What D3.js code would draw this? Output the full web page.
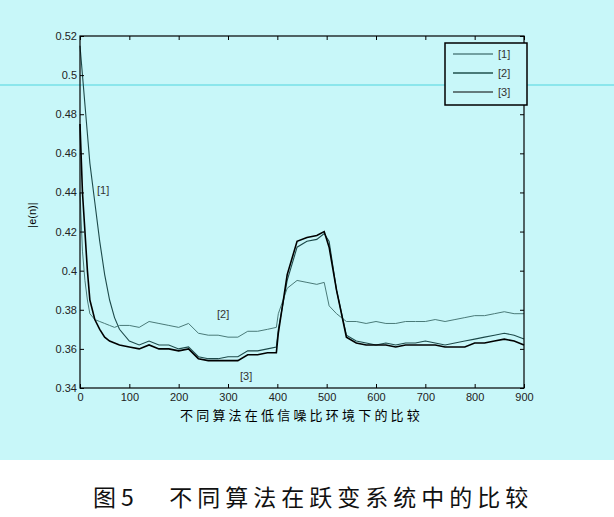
<!DOCTYPE html>
<html><head><meta charset="utf-8">
<script src="https://cdn.jsdelivr.net/npm/d3@7"></script>
<style>body{margin:0;background:#fff}text{font-family:"Liberation Sans",Arial,sans-serif}</style>
</head><body><svg id="c" width="614" height="517"></svg>
<script>
// data -----------------------------------------
const xs = [0,5,10,15,20,30,40,50,60,70,80,100,120,140,160,180,200,220,240,260,280,300,320,340,360,380,398,402,420,440,460,480,495,505,520,540,560,580,600,620,640,660,680,700,720,740,760,780,800,820,840,860,880,900];
const s1 = [0.515,0.50,0.485,0.47,0.455,0.435,0.415,0.398,0.385,0.376,0.370,0.364,0.362,0.364,0.362,0.362,0.360,0.361,0.356,0.355,0.355,0.356,0.356,0.359,0.359,0.360,0.361,0.370,0.395,0.412,0.415,0.416,0.419,0.415,0.390,0.367,0.364,0.363,0.362,0.363,0.362,0.363,0.363,0.364,0.363,0.362,0.363,0.364,0.365,0.366,0.367,0.368,0.367,0.365];
const s2 = [0.44,0.41,0.395,0.385,0.378,0.375,0.374,0.373,0.372,0.371,0.372,0.372,0.371,0.374,0.373,0.372,0.371,0.373,0.368,0.367,0.367,0.366,0.366,0.369,0.369,0.370,0.371,0.378,0.391,0.395,0.394,0.393,0.394,0.382,0.378,0.374,0.374,0.373,0.374,0.373,0.373,0.374,0.374,0.374,0.375,0.374,0.375,0.376,0.377,0.377,0.378,0.379,0.378,0.378];
const s3 = [0.475,0.44,0.42,0.40,0.385,0.375,0.37,0.366,0.364,0.363,0.362,0.361,0.360,0.362,0.360,0.360,0.359,0.360,0.355,0.354,0.354,0.354,0.354,0.357,0.357,0.358,0.358,0.368,0.398,0.415,0.417,0.418,0.420,0.412,0.390,0.366,0.363,0.362,0.362,0.362,0.361,0.362,0.362,0.362,0.362,0.361,0.361,0.361,0.363,0.363,0.364,0.365,0.364,0.362];
const names = ["[1]","[2]","[3]"];
const xTicks = d3.range(0, 901, 100);
const yTicks = [0.34,0.36,0.38,0.4,0.42,0.44,0.46,0.48,0.5,0.52];

// layout ---------------------------------------
const svg = d3.select("#c");
const m = {l: 80, r: 524, t: 36, b: 388};
const x = d3.scaleLinear().domain([0, 900]).range([m.l, m.r]);
const y = d3.scaleLinear().domain([0.34, 0.52]).range([m.b, m.t]);

svg.append("rect").attr("width", 614).attr("height", 460).attr("fill", "#c8f7f9");
svg.append("line").attr("x1", 0).attr("x2", 614).attr("y1", 85).attr("y2", 85)
	.attr("stroke", "#4fd6e0").attr("stroke-width", 1.2);

const series = [
	{name: names[0], v: s1, color: "#1d4a4a", w: 1.1},
	{name: names[1], v: s2, color: "#4a7a78", w: 1},
	{name: names[2], v: s3, color: "#000", w: 1.6}
];
const line = d3.line().x((d, i) => x(xs[i])).y(d => y(d));
series.forEach(s => {
	svg.append("path").attr("d", line(s.v)).attr("fill", "none")
		.attr("stroke", s.color).attr("stroke-width", s.w);
});

// axes
svg.append("rect").attr("x", m.l).attr("y", m.t).attr("width", m.r - m.l).attr("height", m.b - m.t)
	.attr("fill", "none").attr("stroke", "#000").attr("stroke-width", 1.2);
const xa = svg.append("g").attr("transform", `translate(0,${m.b})`)
	.call(d3.axisBottom(x).tickValues(xTicks).tickSize(-4).tickFormat(d3.format("d")));
const xt = svg.append("g").attr("transform", `translate(0,${m.t})`)
	.call(d3.axisTop(x).tickValues(xTicks).tickSize(-4).tickFormat(""));
const ya = svg.append("g").attr("transform", `translate(${m.l},0)`)
	.call(d3.axisLeft(y).tickValues(yTicks).tickSize(-4).tickFormat(d => d3.format("")(+d.toFixed(2))));
const yr = svg.append("g").attr("transform", `translate(${m.r},0)`)
	.call(d3.axisRight(y).tickValues(yTicks).tickSize(-4).tickFormat(""));
[xa, xt, ya, yr].forEach(g => {
	g.select(".domain").remove();
	g.selectAll("text").attr("font-size", 11).attr("fill", "#222");
});
xa.selectAll("text").attr("dy", "0.9em");

svg.append("text").attr("transform", "translate(36,215) rotate(-90)")
	.attr("text-anchor", "middle").attr("font-size", 11).text("|e(n)|");
svg.append("text").attr("x", 180).attr("y", 420)
	.attr("font-size", 13).attr("letter-spacing", 3.2)
	.style("font-family", "'Noto Sans CJK SC'").text("不同算法在低信噪比环境下的比较");

// inline labels
[[97, 194, "[1]"], [217, 318, "[2]"], [240, 380, "[3]"]].forEach(d => {
	svg.append("text").attr("x", d[0]).attr("y", d[1]).attr("font-size", 11).attr("fill", "#333").text(d[2]);
});

// legend
const lg = svg.append("g").attr("transform", "translate(445,43)");
lg.append("rect").attr("width", 82).attr("height", 62).attr("fill", "#c8f7f9")
	.attr("stroke", "#000").attr("stroke-width", 1.5);
series.forEach((s, i) => {
	const yy = 11 + i * 19;
	lg.append("line").attr("x1", 8).attr("x2", 48).attr("y1", yy).attr("y2", yy)
		.attr("stroke", s.color).attr("stroke-width", i === 1 ? 2 : 1.2);
	lg.append("text").attr("x", 53).attr("y", yy + 4).attr("font-size", 11).attr("fill", "#333").text(s.name);
});

svg.append("text").attr("x", 93).attr("y", 506).attr("font-size", 23)
	.style("font-family", "'Noto Sans CJK SC'").attr("fill", "#111").attr("letter-spacing", 5)
	.attr("xml:space", "preserve").text("图5   不同算法在跃变系统中的比较");
</script></body></html>
